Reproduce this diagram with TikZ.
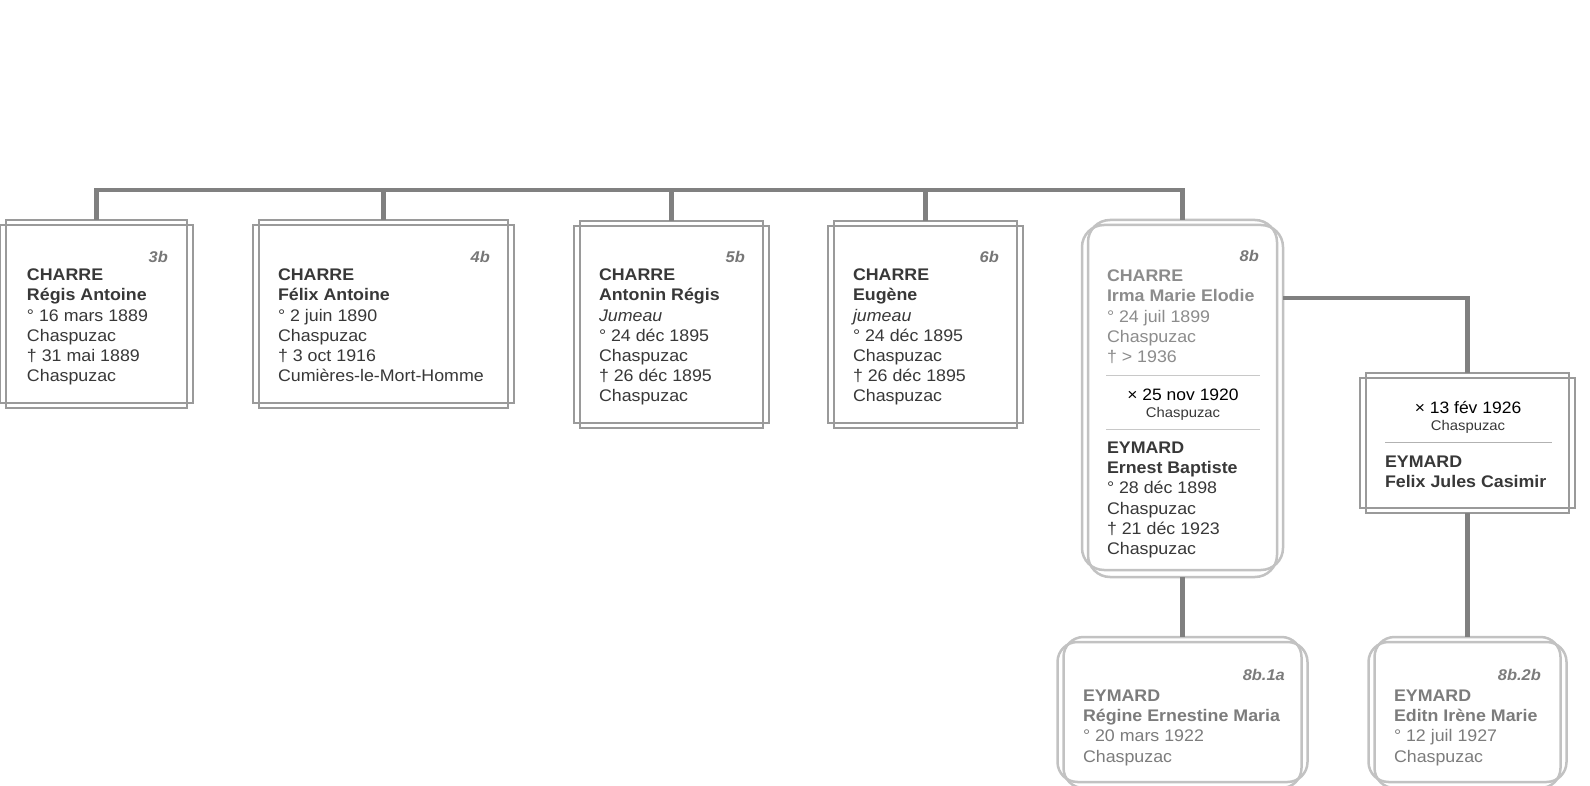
\documentclass[tikz,border=0pt]{standalone}
\usepackage{fontspec}
\setmainfont{Liberation Sans}[FakeStretch=1.06]
\definecolor{conncol}{HTML}{808080}
\definecolor{framecol}{HTML}{9A9A9A}
\definecolor{lightframe}{HTML}{C2C2C2}
\definecolor{txtdark}{HTML}{383838}
\definecolor{txtlight}{HTML}{8C8C8C}
\definecolor{txtchild}{HTML}{7C7C7C}
\definecolor{lblcol}{HTML}{777777}
\definecolor{sepcol}{HTML}{C8C8C8}
\begin{document}
\begin{tikzpicture}[x=1pt,y=-1pt,
  conn/.style={draw=conncol, line width=4.5pt},
  sqbox/.style={draw=framecol, line width=2.5pt, inner sep=0pt, outer sep=0pt},
  sqframe/.style={draw=framecol, line width=2.5pt},
  rbox/.style={draw=lightframe, line width=2.5pt, inner sep=0pt, outer sep=0pt, rounded corners=22pt},
  rframe/.style={draw=lightframe, line width=2.5pt, rounded corners=22pt},
  txt/.style={inner sep=0pt, outer sep=0pt, align=left, anchor=north west, text=txtdark,
              font=\fontsize{16.8}{20.2}\selectfont},
  lbl/.style={inner sep=0pt, anchor=east, text=lblcol, font=\fontsize{15.5}{18}\selectfont\bfseries\itshape},
  marr/.style={inner sep=0pt, anchor=center, text=black, font=\fontsize{16.5}{18}\selectfont},
  marrplace/.style={inner sep=0pt, anchor=center, text=txtdark, font=\fontsize{14}{16}\selectfont},
  sep/.style={draw=sepcol, line width=1pt}
]
\useasboundingbox[fill=white] (0,0) rectangle (1590,786);

% ---------- boxes (inner, taller frame) ----------
\node[sqbox, minimum width=181, minimum height=188] (b3) at (96.5,314) {};
\node[sqbox, minimum width=249, minimum height=188] (b4) at (383.5,314) {};
\node[sqbox, minimum width=183, minimum height=207] (b5) at (671.5,324.5) {};
\node[sqbox, minimum width=183, minimum height=207] (b6) at (925.5,324.5) {};
\node[rbox, minimum width=189, minimum height=357] (b8) at (1182.5,398.5) {};
\node[sqbox, minimum width=203, minimum height=140] (sp) at (1467.5,443) {};
\node[rbox, rounded corners=20pt, minimum width=238, minimum height=151] (c1) at (1182.5,712.5) {};
\node[rbox, rounded corners=20pt, minimum width=186, minimum height=151] (c2) at (1467.5,712.5) {};

% ---------- second (wider, shorter) frames ----------
\foreach \n in {b3,b4,b5,b6,sp}
  \draw[sqframe] ([shift={(-6,5)}]\n.north west) rectangle ([shift={(6,-5)}]\n.south east);
\draw[rframe] ([shift={(-6,5)}]b8.north west) rectangle ([shift={(6,-7)}]b8.south east);
\foreach \n in {c1,c2}
  \draw[rframe, rounded corners=20pt] ([shift={(-6,5)}]\n.north west) rectangle ([shift={(6,-6)}]\n.south east);

% ---------- connectors ----------
\coordinate (bus) at (0,190);
\draw[conn] (b3.north) -- (b3.north |- bus) -- (b8.north |- bus) -- (b8.north);
\foreach \n in {b4,b5,b6}
  \draw[conn] (\n.north) -- (\n.north |- bus);
\coordinate (m8) at (1283,298);
\draw[conn] (m8) -| (sp.north);
\draw[conn] (b8.south) -- (c1.north);
\draw[conn] (sp.south) -- (c2.north);

% ---------- texts ----------
\node[lbl] (l3) at (168,257) {3b};
\node[txt] (t3) at (27,269) {\textbf{CHARRE}\\\textbf{Régis Antoine}\\°~16 mars 1889\\Chaspuzac\\†~31 mai 1889\\Chaspuzac};

\node[lbl] (l4) at (490,257) {4b};
\node[txt] (t4) at (278,269) {\textbf{CHARRE}\\\textbf{Félix Antoine}\\°~2 juin 1890\\Chaspuzac\\†~3 oct 1916\\Cumières-le-Mort-Homme};

\node[lbl] (l5) at (745,257) {5b};
\node[txt] (t5) at (599,269) {\textbf{CHARRE}\\\textbf{Antonin Régis}\\\textit{Jumeau}\\°~24 déc 1895\\Chaspuzac\\†~26 déc 1895\\Chaspuzac};

\node[lbl] (l6) at (999,257) {6b};
\node[txt] (t6) at (853,269) {\textbf{CHARRE}\\\textbf{Eugène}\\\textit{jumeau}\\°~24 déc 1895\\Chaspuzac\\†~26 déc 1895\\Chaspuzac};

\node[lbl] (l8) at (1259,256) {8b};
\node[txt, text=txtlight] (t8a) at (1107,270) {\textbf{CHARRE}\\\textbf{Irma Marie Elodie}\\°~24 juil 1899\\Chaspuzac\\†~>~1936};
\draw[sep] (1106,375) -- (1260,375);
\node[marr] (m8d) at (1183,395) {×~25 nov 1920};
\node[marrplace] (m8p) at (1183,414) {Chaspuzac};
\draw[sep] (1106,429) -- (1260,429);
\node[txt] (t8b) at (1107,442) {\textbf{EYMARD}\\\textbf{Ernest Baptiste}\\°~28 déc 1898\\Chaspuzac\\†~21 déc 1923\\Chaspuzac};

\node[marr] (spd) at (1468,408) {×~13 fév 1926};
\node[marrplace] (spp) at (1468,427) {Chaspuzac};
\draw[sep, draw=sepcol!70!gray] (1385,442) -- (1552,442);
\node[txt] (tsp) at (1385,456) {\textbf{EYMARD}\\\textbf{Felix Jules Casimir}};

\node[lbl, text=txtchild] (lc1) at (1285,675) {8b.1a};
\node[txt, text=txtchild] (tc1) at (1083,690) {\textbf{EYMARD}\\\textbf{Régine Ernestine Maria}\\°~20 mars 1922\\Chaspuzac};

\node[lbl, text=txtchild] (lc2) at (1541,675) {8b.2b};
\node[txt, text=txtchild] (tc2) at (1394,690) {\textbf{EYMARD}\\\textbf{Editn Irène Marie}\\°~12 juil 1927\\Chaspuzac};
\end{tikzpicture}
\end{document}
